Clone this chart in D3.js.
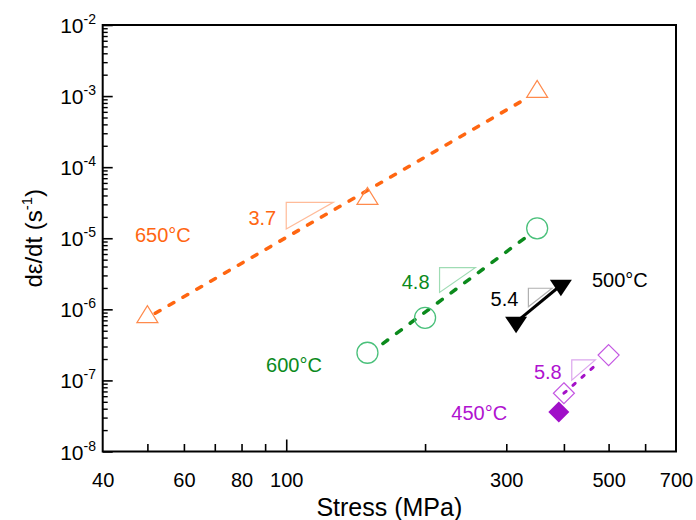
<!DOCTYPE html>
<html>
<head>
<meta charset="utf-8">
<script src="https://cdn.jsdelivr.net/npm/d3@7/dist/d3.min.js"></script>
<style>
  body { margin: 0; background: #fff; }
  svg { display: block; font-family: "Liberation Sans", Arial, sans-serif; }
</style>
</head>
<body>
<div id="chart"></div>
<script>
// ---- data ----
const xLabelTicks = [40, 60, 80, 100, 300, 500, 700];
const xMinorTicks = [50, 60, 70, 80, 90, 200, 300, 400, 500, 600];
const xMajorTicks = [100];
const yDecades = [-8, -7, -6, -5, -4, -3, -2];

// 650°C  (open triangles + dashed fit)
const stress650 = [50, 150, 350];
const rate650 = [7.8e-7, 3.6e-5, 1.15e-3];
const fitStress650 = [52, 332];
const fitRate650 = [8.8e-7, 9.3e-4];

// 600°C  (open circles + dashed fit)
const stress600 = [150, 200, 350];
const rate600 = [2.45e-7, 7.6e-7, 1.38e-5];
const fitStress600 = [162, 332];
const fitRate600 = [3.3e-7, 1.05e-5];

// 500°C  (filled down triangles + solid line)
const stress500 = [315, 394];
const rate500 = [6.6e-7, 2.18e-6];

// 450°C  (open diamonds + dashed fit, one filled diamond)
const stress450 = [400, 500];
const rate450 = [6.6e-8, 2.27e-7];
const stress450Filled = [390];
const rate450Filled = [3.6e-8];
const fitStress450 = [400, 478];
const fitRate450 = [6.6e-8, 1.83e-7];

// slope triangles (stress left/right, rate top/bottom)
const slopeLabels = ['3.7', '4.8', '5.4', '5.8'];
const slopeX0 = [100, 215, 335, 416];
const slopeX1 = [126.5, 257, 377, 468];
const slopeYTop = [3.2e-5, 3.86e-6, 1.98e-6, 1.94e-7];
const slopeYBot = [1.35e-5, 1.73e-6, 1.09e-6, 1.01e-7];

// temperature labels, anchored in data space
const tempLabels = ['650°C', '600°C', '500°C', '450°C'];
const tempStress = [47, 90.4, 460, 228];
const tempRate = [1.11e-5, 1.65e-7, 2.58e-6, 3.47e-8];

// ---- styling ----
const orange = { line: '#ff6611', mark: '#ff8a4c', text: '#ff6611', tri: '#ffbb99' };
const green = { line: '#0b8a1c', mark: '#49c07a', text: '#0b8a1c', tri: '#9fdcb4' };
const black = { line: '#000', mark: '#000', text: '#000', tri: '#b0b0b0' };
const purple = { line: '#a412c8', mark: '#c457e2', text: '#b012d0', tri: '#dca6ee', fill: '#a010c8' };
const slopeColors = [orange, green, black, purple];
const tempColors = [orange.text, green.text, black.text, purple.text];

const width = 696;
const height = 520;
const plot = { left: 102.7, right: 676, top: 25, bottom: 451.5 };

const svg = d3.select('#chart')
    .append('svg')
    .attr('width', width)
    .attr('height', height);

const x = d3.scaleLog().domain([40, 700]).range([plot.left, plot.right]);
const y = d3.scaleLog().domain([1e-8, 1e-2]).range([plot.bottom, plot.top]);

// x axis: labels, minor ticks, major tick
const xAxisG = svg.append('g').attr('transform', `translate(0,${plot.bottom})`);

xAxisG.append('g')
    .call(d3.axisBottom(x).tickValues(xLabelTicks).tickSize(0).tickPadding(21)
        .tickFormat(d3.format('d')))
    .call((g) => g.select('.domain').remove())
    .selectAll('text')
    .style('font-size', '20px')
    .attr('fill', '#000');

xAxisG.append('g')
    .call(d3.axisBottom(x).tickValues(xMinorTicks).tickSize(-7.5).tickFormat(''))
    .call((g) => g.select('.domain').remove())
    .selectAll('line').attr('stroke', '#000').attr('stroke-width', 1.6);

xAxisG.append('g')
    .call(d3.axisBottom(x).tickValues(xMajorTicks).tickSize(-12).tickFormat(''))
    .call((g) => g.select('.domain').remove())
    .selectAll('line').attr('stroke', '#000').attr('stroke-width', 1.6);

// y axis: decade ticks + minor ticks, labels as 10^n
const yMinorTicks = [];
yDecades.slice(0, -1).forEach((e) => {
    for (let k = 2; k <= 9; k++) yMinorTicks.push(k * Math.pow(10, e));
});

const yAxisG = svg.append('g').attr('transform', `translate(${plot.left},0)`);

yAxisG.append('g')
    .call(d3.axisLeft(y).tickValues(yMinorTicks).tickSize(-5).tickFormat(''))
    .call((g) => g.select('.domain').remove())
    .selectAll('line').attr('stroke', '#000').attr('stroke-width', 1.4);

yAxisG.append('g')
    .call(d3.axisLeft(y).tickValues(yDecades.map((e) => Math.pow(10, e))).tickSize(-10).tickFormat(''))
    .call((g) => g.select('.domain').remove())
    .selectAll('line').attr('stroke', '#000').attr('stroke-width', 1.6);

const yLabels = svg.append('g')
    .selectAll('text')
    .data(yDecades)
    .enter()
    .append('text')
    .attr('x', 96)
    .attr('y', (e) => y(Math.pow(10, e)) + 8)
    .attr('text-anchor', 'end')
    .style('font-size', '21px');
yLabels.append('tspan').text('10');
yLabels.append('tspan')
    .attr('dy', -9)
    .style('font-size', '14px')
    .text((e) => `-${-e}`);

// frame
svg.append('rect')
    .attr('x', plot.left)
    .attr('y', plot.top)
    .attr('width', plot.right - plot.left)
    .attr('height', plot.bottom - plot.top)
    .attr('fill', 'none')
    .attr('stroke', '#000')
    .attr('stroke-width', 2);

// axis titles
svg.append('text')
    .attr('x', (plot.left + plot.right) / 2)
    .attr('y', 516)
    .attr('text-anchor', 'middle')
    .style('font-size', '25px')
    .text('Stress (MPa)');

const yTitle = svg.append('text')
    .attr('transform', `translate(42,${(plot.top + plot.bottom) / 2}) rotate(-90)`)
    .attr('text-anchor', 'middle')
    .style('font-size', '24px');
yTitle.append('tspan').text('dε/dt (s');
yTitle.append('tspan').attr('dy', -10).style('font-size', '15px').text('-1');
yTitle.append('tspan').attr('dy', 10).text(')');

// ---- marks ----
const zip = (xs, ys) => xs.map((v, i) => [v, ys[i]]);
const line = d3.line().x((d) => x(d[0])).y((d) => y(d[1]));

// slope triangles (drawn first, thin)
slopeLabels.forEach((lab, i) => {
    const x0 = x(slopeX0[i]);
    const x1 = x(slopeX1[i]);
    const yt = y(slopeYTop[i]);
    const yb = y(slopeYBot[i]);
    svg.append('path')
        .attr('d', `M${x0},${yt}L${x1},${yt}L${x0},${yb}Z`)
        .attr('fill', 'none')
        .attr('stroke', slopeColors[i].tri)
        .attr('stroke-width', 1.2);
    svg.append('text')
        .attr('x', x0 - 10)
        .attr('y', (yt + yb) / 2 + 9)
        .attr('text-anchor', 'end')
        .attr('fill', slopeColors[i].text)
        .style('font-size', '20px')
        .text(lab);
});

// fit lines
svg.append('path')
    .attr('d', line(zip(fitStress650, fitRate650)))
    .attr('fill', 'none')
    .attr('stroke', orange.line)
    .attr('stroke-width', 3.5)
    .attr('stroke-linecap', 'round')
    .attr('stroke-dasharray', '5.5,10.5');

svg.append('path')
    .attr('d', line(zip(fitStress600, fitRate600)))
    .attr('fill', 'none')
    .attr('stroke', green.line)
    .attr('stroke-width', 3.5)
    .attr('stroke-linecap', 'round')
    .attr('stroke-dasharray', '6,11');

svg.append('path')
    .attr('d', line(zip(stress500, rate500)))
    .attr('fill', 'none')
    .attr('stroke', black.line)
    .attr('stroke-width', 3);

svg.append('path')
    .attr('d', line(zip(fitStress450, fitRate450)))
    .attr('fill', 'none')
    .attr('stroke', purple.line)
    .attr('stroke-width', 3)
    .attr('stroke-linecap', 'round')
    .attr('stroke-dasharray', '3,9');

// marker shapes
const triUp = (cx, cy, w, h) =>
    `M${cx - w / 2},${cy + h / 3}L${cx + w / 2},${cy + h / 3}L${cx},${cy - (2 * h) / 3}Z`;
const triDown = (cx, cy, w, h) =>
    `M${cx - w / 2},${cy - h / 3}L${cx + w / 2},${cy - h / 3}L${cx},${cy + (2 * h) / 3}Z`;
const diamond = (cx, cy, r) =>
    `M${cx},${cy - r}L${cx + r},${cy}L${cx},${cy + r}L${cx - r},${cy}Z`;

svg.append('g')
    .selectAll('path')
    .data(zip(stress650, rate650))
    .enter()
    .append('path')
    .attr('d', (d) => triUp(x(d[0]), y(d[1]), 21, 17))
    .attr('fill', 'none')
    .attr('stroke', orange.mark)
    .attr('stroke-width', 1.2);

svg.append('g')
    .selectAll('circle')
    .data(zip(stress600, rate600))
    .enter()
    .append('circle')
    .attr('cx', (d) => x(d[0]))
    .attr('cy', (d) => y(d[1]))
    .attr('r', 10.5)
    .attr('fill', 'none')
    .attr('stroke', green.mark)
    .attr('stroke-width', 1.3);

svg.append('g')
    .selectAll('path')
    .data(zip(stress500, rate500))
    .enter()
    .append('path')
    .attr('d', (d) => triDown(x(d[0]), y(d[1]), 22, 16.5))
    .attr('fill', black.mark);

svg.append('g')
    .selectAll('path')
    .data(zip(stress450, rate450))
    .enter()
    .append('path')
    .attr('d', (d) => diamond(x(d[0]), y(d[1]), 10.5))
    .attr('fill', 'none')
    .attr('stroke', purple.mark)
    .attr('stroke-width', 1.2);

svg.append('g')
    .selectAll('path')
    .data(zip(stress450Filled, rate450Filled))
    .enter()
    .append('path')
    .attr('d', (d) => diamond(x(d[0]), y(d[1]), 10.5))
    .attr('fill', purple.fill);

// temperature labels
svg.append('g')
    .selectAll('text')
    .data(tempLabels)
    .enter()
    .append('text')
    .attr('x', (d, i) => x(tempStress[i]))
    .attr('y', (d, i) => y(tempRate[i]) + 7)
    .attr('fill', (d, i) => tempColors[i])
    .style('font-size', '20px')
    .text((d) => d);
</script>
</body>
</html>
